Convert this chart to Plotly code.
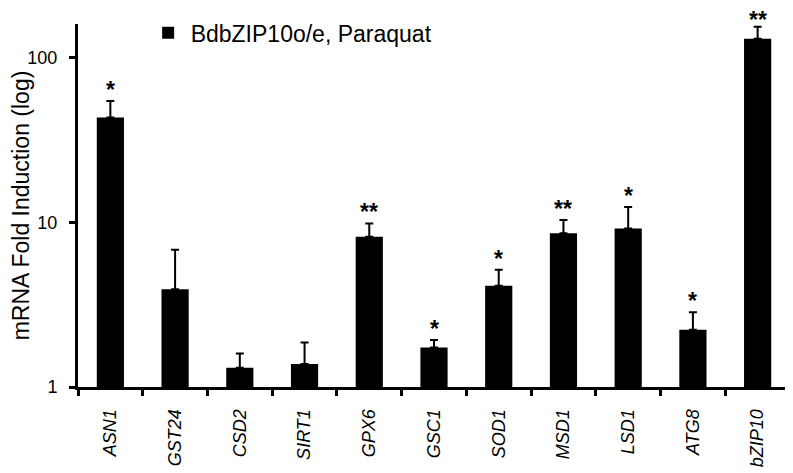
import plotly.graph_objects as go
import math

genes = ["ASN1", "GST24", "CSD2", "SIRT1", "GPX6", "GSC1", "SOD1", "MSD1", "LSD1", "ATG8", "bZIP10"]
fold = [43.3, 3.92, 1.31, 1.38, 8.16, 1.74, 4.12, 8.58, 9.18, 2.23, 130]
err_up = [11.3, 2.9, 0.29, 0.48, 1.68, 0.19, 1.03, 1.73, 3.2, 0.61, 24]
stars = ["*", "", "", "", "**", "*", "*", "**", "*", "*", "**"]
series_name = "BdbZIP10o/e, Paraquat"

FONT = "Liberation Sans, Arial"

fig = go.Figure()
fig.add_trace(go.Bar(
    x=genes, y=fold, name=series_name,
    marker=dict(color="black", line=dict(width=0)),
    width=0.42,
    error_y=dict(type="data", symmetric=False, array=err_up,
                 arrayminus=[0]*len(fold), color="black", thickness=2, width=4),
))

for g, v, e, s in zip(genes, fold, err_up, stars):
    if s:
        top = math.log10(v + e)
        # keep the highest label inside the drawing area
        shift = -7 if top > 2.15 else -3
        fig.add_annotation(x=g, y=top, text="<b>%s</b>" % s, showarrow=False,
                           yanchor="bottom", yshift=shift, borderpad=0,
                           font=dict(family=FONT, size=23, color="black"))

# page body has an 8px default margin, so the figure is 8px smaller and offsets reduced
fig.update_layout(
    width=785, height=465,
    margin=dict(l=70, r=3, t=10, b=86),
    plot_bgcolor="white", paper_bgcolor="white",
    font=dict(family=FONT, color="black"),
    showlegend=True,
    legend=dict(x=0.095, y=1.035, xanchor="left", yanchor="top", itemwidth=35,
                font=dict(size=23), bgcolor="rgba(0,0,0,0)"),
    xaxis=dict(
        automargin=False,
        showline=True, linecolor="black", linewidth=3,
        ticks="outside", ticklen=6, tickwidth=2.5, tickcolor="black",
        tickson="boundaries", tickangle=-90, ticklabelstandoff=12,
        tickfont=dict(size=18, family=FONT),
        ticktext=["<i>%s</i>" % g for g in genes], tickvals=genes,
        showgrid=False, zeroline=False,
    ),
    yaxis=dict(
        automargin=False,
        type="log", range=[0, math.log10(160)],
        showline=True, linecolor="black", linewidth=3,
        ticks="outside", ticklen=6, tickwidth=2.5, tickcolor="black",
        ticklabelstandoff=8,
        tickvals=[1, 10, 100], ticktext=["1", "10", "100"],
        tickfont=dict(size=18),
        showgrid=False, zeroline=False,
        title=dict(text="mRNA Fold Induction (log)", font=dict(size=23), standoff=10),
    ),
)

fig.write_html("out.html")
